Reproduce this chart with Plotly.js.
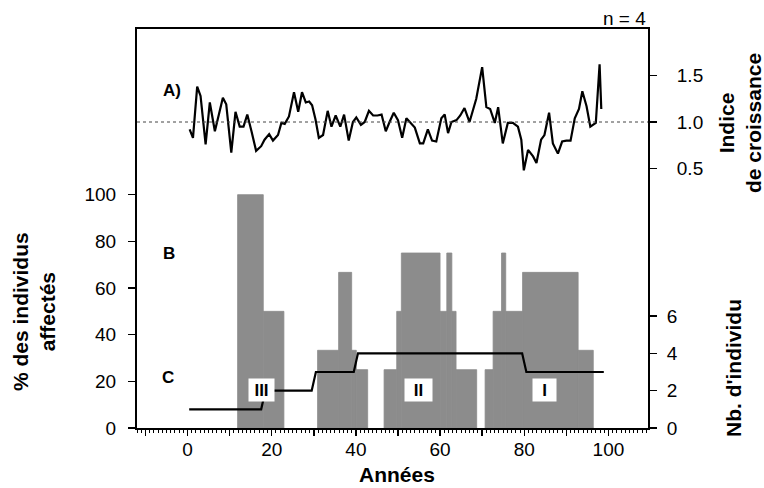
<!DOCTYPE html>
<html><head><meta charset="utf-8">
<script src="https://cdn.plot.ly/plotly-3.0.1.min.js"></script>
<style>html,body{margin:0;padding:0;background:#fff}</style>
</head><body><div id="chart" style="width:764px;height:488px"></div>
<script>
// A) Indice de croissance (growth index)
const growthYears = [0.5,1.3,2.3,3.1,4.3,5.3,6.5,8.4,9.2,10.4,11.4,12.4,13.3,14.2,15.2,16.3,17.5,18.3,19.4,20.3,
  21.5,22.3,23.1,24.1,25.3,26.3,27.2,28.1,28.9,29.6,30.4,31.2,32.2,33.3,34.2,35.2,36.3,37.2,38.3,39.3,
  40.1,41.2,42.1,43.1,44.1,45.1,46.1,47.1,48.0,49.0,50.0,51.0,52.0,53.0,54.0,55.2,56.0,57.1,58.1,59.1,
  60.3,61.1,61.9,62.7,63.9,64.8,65.8,67.0,68.6,70.0,71.0,71.9,73.0,73.8,74.9,76.1,77.3,78.5,79.3,79.9,
  80.9,82.1,82.9,84.0,84.8,85.9,86.8,88.0,89.0,90.0,91.0,92.0,93.0,93.8,94.8,95.7,97.0,97.9,98.3];
const growthIndex = [0.92,0.83,1.38,1.28,0.76,1.21,0.90,1.26,1.19,0.67,1.11,0.95,0.95,1.08,0.90,0.69,0.74,0.81,0.87,0.80,
  0.86,0.99,0.98,1.06,1.32,1.11,1.32,1.21,1.22,1.18,1.03,0.83,0.86,1.12,0.95,1.07,0.95,1.08,0.80,1.00,
  1.05,0.97,1.00,1.12,1.07,1.07,1.08,0.90,1.00,1.10,1.02,0.83,1.04,0.99,0.94,0.77,0.77,0.92,0.80,0.79,
  1.04,1.08,0.88,1.00,1.02,1.07,1.15,1.00,1.25,1.59,1.16,1.14,0.99,1.16,0.77,0.99,0.99,0.95,0.81,0.48,
  0.70,0.63,0.56,0.81,0.86,1.10,0.77,0.66,0.79,0.80,0.80,1.04,1.14,1.33,1.17,0.95,0.99,1.62,1.14];

// B) % des individus affectés (step blocks: start year, end year, percent)
const barStart = [11.9,18.0, 30.9,35.9,39.0,40.1, 46.7,49.7,50.8,60.0,61.6,62.8,63.8, 70.7,72.6,74.6,75.6,79.6,92.8];
const barEnd   = [18.0,22.9, 35.9,39.0,40.1,42.8, 49.7,50.8,60.0,61.6,62.8,63.8,68.7, 72.6,74.6,75.6,79.6,92.8,96.4];
const barPct   = [100,50, 33.3,66.7,33.3,25, 25,50,75,50,75,50,25, 25,50,75,50,66.7,33.3];

// C) Nb. d'individu
const nbYears = [0.4,17.5,18.5,29.5,30.5,39.5,40.5,79.5,80.5,98.9];
const nbCount = [1,1,2,2,3,3,4,4,3,3];

// Tick labels
const xTickVals = [-10,0,10,20,30,40,50,60,70,80,90,100];
const xTickText = ['','0','','20','','40','','60','','80','','100'];
const pctTicks = [0,20,40,60,80,100];
const idxTicks = [0.5,1.0,1.5];
const idxTickText = ['0.5','1.0','1.5'];
const nbTicks = [0,2,4,6];
const phaseLabels = ['III','II','I'];
const phaseYears = [17.5,54.8,84.8];

const FONT = 'Liberation Sans, Arial, sans-serif';
const BARCOL = '#8c8c8c';

const barW = barStart.map((s,i)=>barEnd[i]-s);

const traces = [
  {type:'bar', x:barStart, y:barPct, width:barW, offset:0, xaxis:'x', yaxis:'y',
   marker:{color:BARCOL, line:{width:0.8, color:BARCOL}},
   hoverinfo:'skip', showlegend:false},
  {type:'scatter', mode:'lines', x:growthYears, y:growthIndex, xaxis:'x', yaxis:'y2',
   line:{color:'#000', width:2.2}, showlegend:false},
  {type:'scatter', mode:'lines', x:nbYears, y:nbCount, xaxis:'x', yaxis:'y3',
   line:{color:'#000', width:2.2}, showlegend:false}
];

const W = 511, H = 399, L = 137, B = 428;
const px = v => (v - L)/W;
const py = v => (B - v)/H;
function ann(text, x, y, size, extra){
  return Object.assign({text:text, x:px(x), y:py(y), xref:'paper', yref:'paper', xanchor:'center', yanchor:'middle',
    showarrow:false, font:{size:size, family:FONT, color:'#000'}}, extra||{});
}

const annotations = [
  ann('<b>A)</b>', 172, 90, 17),
  ann('<b>B</b>', 169, 253, 17),
  ann('<b>C</b>', 168, 377, 17),
  ann('n = 4', 648, 19, 19, {xanchor:'right'}),
  ann('<b>% des individus<br>affectés</b>', 34, 312, 21, {textangle:-90}),
  ann('<b>Indice<br>de croissance</b>', 740, 123, 21, {textangle:-90}),
  ann('<b>Nb. d\'individu</b>', 733, 368, 21, {textangle:-90}),
  ann('<b>Années</b>', 397, 474, 21)
];
const boxW = [25,27,23];
phaseLabels.forEach((t,i)=>{
  annotations.push({text:'<b>'+t+'</b>', x:phaseYears[i], y:16.2, xref:'x', yref:'y', xanchor:'center', yanchor:'middle',
    showarrow:false, bgcolor:'#fff', width:boxW[i], height:22, borderpad:0, font:{size:17, family:FONT, color:'#000'}});
});

const layout = {
  width:764, height:488,
  margin:{l:137, r:116, t:29, b:60, pad:0},
  paper_bgcolor:'#fff', plot_bgcolor:'#fff',
  font:{family:FONT, color:'#000', size:19},
  showlegend:false,
  xaxis:{range:[-12,109.4], showline:true, linecolor:'#000', linewidth:2, mirror:true,
    tickmode:'array', tickvals:xTickVals, ticktext:xTickText, ticks:'outside', ticklen:6, tickwidth:1.5, tickcolor:'#000',
    minor:{tickmode:'linear', tick0:0, dtick:1, ticks:'outside', ticklen:3, tickwidth:1, tickcolor:'#000'},
    showgrid:false, zeroline:false, tickfont:{size:19}, ticklabelstandoff:-3},
  yaxis:{range:[0,171], showline:true, linecolor:'#000', linewidth:2, mirror:true,
    tickmode:'array', tickvals:pctTicks, ticks:'outside', ticklen:7, tickwidth:1.5, tickcolor:'#000',
    showgrid:false, zeroline:false, tickfont:{size:19}, ticklabelstandoff:8},
  yaxis2:{overlaying:'y', side:'right', anchor:'x', range:[-2.29,2.0], showline:false,
    tickmode:'array', tickvals:idxTicks, ticktext:idxTickText, ticks:'outside', ticklen:8, tickwidth:1.5, tickcolor:'#000',
    showgrid:false, zeroline:false, tickfont:{size:19}, ticklabelstandoff:16},
  yaxis3:{overlaying:'y', side:'right', anchor:'x', range:[0,21.37], showline:false,
    tickmode:'array', tickvals:nbTicks, ticks:'outside', ticklen:8, tickwidth:1.5, tickcolor:'#000',
    showgrid:false, zeroline:false, tickfont:{size:19}, ticklabelstandoff:6},
  shapes:[{type:'line', xref:'paper', x0:0, x1:1, yref:'y2', y0:1.0, y1:1.0,
    line:{color:'#444', width:1, dash:'dot'}}],
  annotations:annotations
};

Plotly.newPlot('chart', traces, layout, {displayModeBar:false, staticPlot:true});
</script></body></html>
